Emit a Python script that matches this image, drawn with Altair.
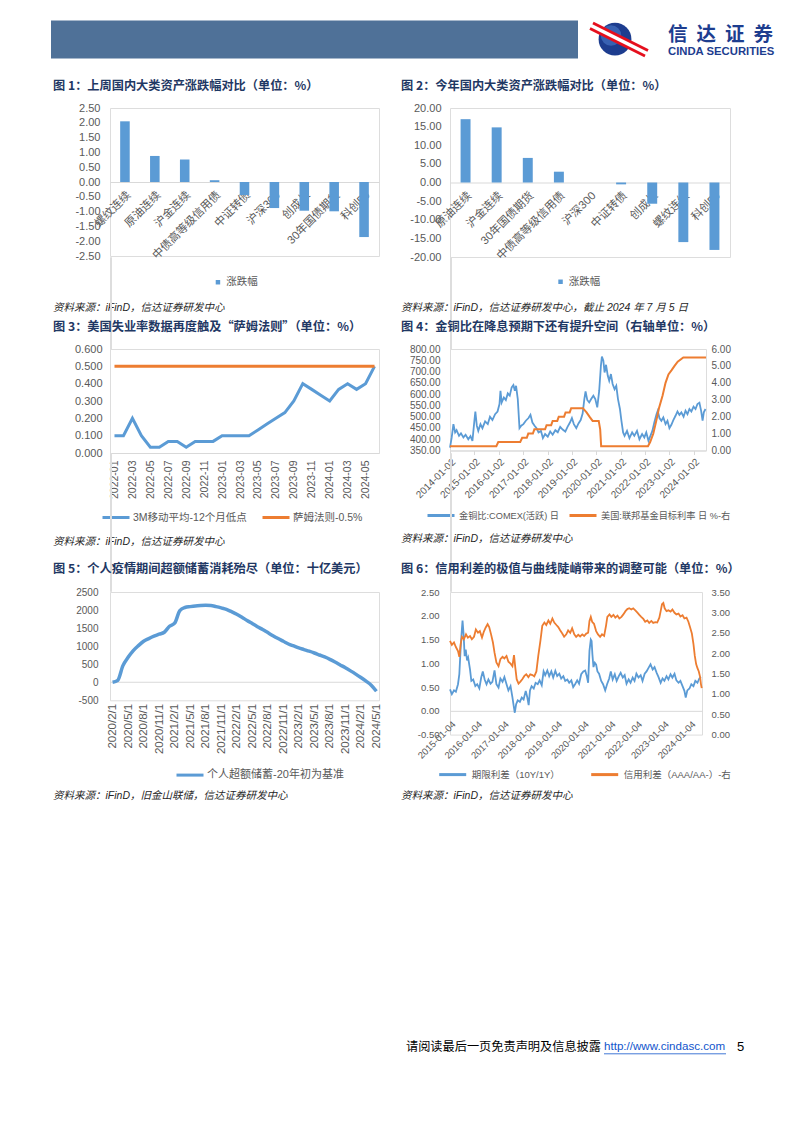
import altair as alt
import pandas as pd

# ---------------- styles ----------------
BLUE = "#5B9BD5"
ORANGE = "#ED7D31"
TICK_TXT = "#595959"
LINE_GRAY = "#D9D9D9"
NAVY = "#1F3864"
LOGO_BLUE = "#1D3D8F"
LATIN = "Liberation Sans, Noto Sans CJK SC, sans-serif"
CJK = "Noto Sans CJK SC, sans-serif"
MINUS = "\u2212"

# ---------------- data ----------------
# Fig 1: last week
assets_week = ["螺纹连续", "原油连续", "沪金连续", "中债高等级信用债", "中证转债",
               "沪深300", "创成长", "30年国债期货", "科创50"]
chg_week = [2.05, 0.88, 0.76, 0.06, -0.44, -0.88, -0.97, -0.99, -1.86]
yticks_week = [-2.5, -2.0, -1.5, -1.0, -0.5, 0.0, 0.5, 1.0, 1.5, 2.0, 2.5]

# Fig 2: year to date
assets_ytd = ["原油连续", "沪金连续", "30年国债期货", "中债高等级信用债", "沪深300",
              "中证转债", "创成长", "螺纹连续", "科创50"]
chg_ytd = [17.0, 14.8, 6.6, 2.9, 0.0, -0.5, -5.7, -16.0, -18.1]
yticks_ytd = [-20, -15, -10, -5, 0, 5, 10, 15, 20]

# Fig 3: Sahm rule
months_sahm = ["2022-01", "2022-02", "2022-03", "2022-04", "2022-05", "2022-06",
               "2022-07", "2022-08", "2022-09", "2022-10", "2022-11", "2022-12",
               "2023-01", "2023-02", "2023-03", "2023-04", "2023-05", "2023-06",
               "2023-07", "2023-08", "2023-09", "2023-10", "2023-11", "2023-12",
               "2024-01", "2024-02", "2024-03", "2024-04", "2024-05", "2024-06"]
unemp_gap = [0.100, 0.100, 0.200, 0.100, 0.033, 0.033, 0.067, 0.067, 0.033, 0.067, 0.067, 0.067,
             0.100, 0.100, 0.100, 0.100, 0.133, 0.167, 0.200, 0.233, 0.300, 0.400, 0.367, 0.333,
             0.300, 0.367, 0.400, 0.367, 0.400, 0.500]
sahm_line = [0.5, 0.5, 0.5, 0.5, 0.5, 0.5, 0.5, 0.5, 0.5, 0.5, 0.5, 0.5, 0.5, 0.5, 0.5,
             0.5, 0.5, 0.5, 0.5, 0.5, 0.5, 0.5, 0.5, 0.5, 0.5, 0.5, 0.5, 0.5, 0.5, 0.5]
yticks_sahm = [0.0, 0.1, 0.2, 0.3, 0.4, 0.5, 0.6]

# Fig 4: gold/copper ratio (decimal year, value) and fed funds target (decimal year, %)
gold_copper = [
    (2014.00, 363), (2014.07, 408), (2014.14, 467), (2014.21, 430), (2014.27, 440), (2014.37, 415),
    (2014.45, 426), (2014.55, 408), (2014.64, 420), (2014.75, 400), (2014.84, 414), (2014.92, 393),
    (2015.00, 482), (2015.04, 523), (2015.10, 460), (2015.16, 437), (2015.25, 467), (2015.33, 449),
    (2015.44, 479), (2015.55, 467), (2015.64, 500), (2015.74, 485), (2015.85, 511), (2015.95, 523),
    (2016.03, 556), (2016.07, 615), (2016.12, 563), (2016.21, 585), (2016.29, 574), (2016.37, 603),
    (2016.45, 593), (2016.53, 630), (2016.60, 640), (2016.66, 615), (2016.71, 637), (2016.78, 578),
    (2016.85, 449), (2016.92, 460), (2017.01, 467), (2017.11, 482), (2017.22, 494), (2017.30, 508),
    (2017.38, 474), (2017.47, 460), (2017.55, 449), (2017.63, 430), (2017.73, 437), (2017.81, 405),
    (2017.90, 423), (2018.01, 411), (2018.11, 434), (2018.21, 420), (2018.32, 440), (2018.42, 431),
    (2018.52, 455), (2018.62, 443), (2018.73, 434), (2018.82, 455), (2018.92, 474), (2019.00, 494),
    (2019.08, 467), (2019.18, 449), (2019.27, 470), (2019.36, 485), (2019.44, 514), (2019.51, 578),
    (2019.56, 612), (2019.63, 574), (2019.71, 563), (2019.79, 578), (2019.88, 593), (2019.96, 578),
    (2020.04, 541), (2020.12, 615), (2020.19, 726), (2020.23, 766), (2020.29, 748), (2020.34, 696),
    (2020.40, 730), (2020.47, 682), (2020.53, 659), (2020.60, 689), (2020.67, 645), (2020.75, 622),
    (2020.82, 637), (2020.89, 578), (2020.97, 534), (2021.03, 482), (2021.10, 430), (2021.16, 415),
    (2021.26, 437), (2021.36, 405), (2021.47, 430), (2021.56, 415), (2021.67, 437), (2021.77, 400),
    (2021.88, 423), (2021.97, 408), (2022.05, 430), (2022.14, 393), (2022.22, 415), (2022.30, 437),
    (2022.38, 474), (2022.47, 511), (2022.52, 526), (2022.59, 494), (2022.67, 482), (2022.75, 497),
    (2022.84, 467), (2022.92, 482), (2023.00, 449), (2023.08, 464), (2023.16, 485), (2023.25, 504),
    (2023.33, 523), (2023.41, 508), (2023.49, 519), (2023.58, 500), (2023.66, 526), (2023.74, 511),
    (2023.82, 534), (2023.90, 523), (2023.99, 544), (2024.07, 534), (2024.15, 556), (2024.23, 562),
    (2024.30, 526), (2024.36, 482), (2024.41, 519), (2024.48, 534),
]
fed_rate = [
    (2014.00, 0.25), (2015.90, 0.25), (2015.98, 0.50), (2016.88, 0.50), (2016.96, 0.75),
    (2017.15, 0.75), (2017.21, 1.00), (2017.40, 1.00), (2017.46, 1.25), (2017.90, 1.25),
    (2017.96, 1.50), (2018.15, 1.50), (2018.21, 1.75), (2018.40, 1.75), (2018.46, 2.00),
    (2018.68, 2.00), (2018.74, 2.25), (2018.91, 2.25), (2018.97, 2.50), (2019.45, 2.50),
    (2019.60, 2.25), (2019.72, 2.00), (2019.85, 1.75), (2020.10, 1.75), (2020.16, 1.25),
    (2020.20, 0.25), (2022.12, 0.25), (2022.21, 0.50), (2022.34, 1.00), (2022.46, 1.75),
    (2022.57, 2.50), (2022.72, 3.25), (2022.84, 4.00), (2022.96, 4.50), (2023.09, 4.75),
    (2023.21, 5.00), (2023.34, 5.25), (2023.57, 5.50), (2024.50, 5.50),
]
yticks_gc = [350, 400, 450, 500, 550, 600, 650, 700, 750, 800]
yticks_fed = [0, 1, 2, 3, 4, 5, 6]
years_gc = [2014, 2015, 2016, 2017, 2018, 2019, 2020, 2021, 2022, 2023, 2024]

# Fig 5: excess savings (billion USD), monthly 2020/2/1 .. 2024/5/1
months_sav = [f"{d.year}/{d.month}/1" for d in pd.date_range("2020-02-01", "2024-05-01", freq="MS")]
excess_sav = [0, 55, 460, 690, 877, 1015, 1135, 1210, 1275, 1330, 1385, 1550, 1635,
              1985, 2070, 2095, 2115, 2125, 2130, 2125, 2095, 2060, 2020, 1955, 1885, 1800,
              1710, 1625, 1540, 1460, 1375, 1290, 1210, 1135, 1060, 1005, 950, 905, 860,
              810, 755, 700, 635, 560, 480, 400, 315, 225, 130, 30, -80, -250]
yticks_sav = [-500, 0, 500, 1000, 1500, 2000, 2500]

# Fig 6: term spread (left) and credit spread (right), (decimal year, value)
term_spread = [
    (2015.00, 0.45), (2015.07, 0.35), (2015.15, 0.43), (2015.22, 0.40), (2015.30, 0.56), (2015.35, 0.77),
    (2015.40, 1.33), (2015.45, 1.75), (2015.47, 1.90), (2015.51, 1.61), (2015.55, 1.15), (2015.59, 1.29),
    (2015.64, 1.06), (2015.68, 1.12), (2015.75, 0.87), (2015.80, 0.63), (2015.87, 0.66), (2015.95, 0.52),
    (2016.02, 0.56), (2016.10, 0.47), (2016.17, 0.70), (2016.23, 0.83), (2016.30, 0.66), (2016.37, 0.56),
    (2016.44, 0.66), (2016.52, 0.57), (2016.59, 0.61), (2016.67, 0.85), (2016.74, 0.56), (2016.82, 0.49),
    (2016.89, 0.68), (2016.97, 0.61), (2017.04, 0.71), (2017.12, 0.56), (2017.19, 0.43), (2017.27, 0.52),
    (2017.34, 0.29), (2017.39, 0.10), (2017.43, -0.04), (2017.48, 0.14), (2017.54, 0.22), (2017.62, 0.19),
    (2017.69, 0.28), (2017.76, 0.24), (2017.84, 0.42), (2017.90, 0.28), (2017.95, 0.12), (2018.00, 0.43),
    (2018.06, 0.52), (2018.14, 0.47), (2018.21, 0.59), (2018.29, 0.56), (2018.36, 0.64), (2018.44, 0.54),
    (2018.51, 0.83), (2018.57, 0.75), (2018.65, 0.85), (2018.72, 0.73), (2018.80, 0.83), (2018.87, 0.70),
    (2018.95, 0.84), (2019.02, 0.73), (2019.10, 0.78), (2019.17, 0.68), (2019.25, 0.73), (2019.32, 0.63),
    (2019.40, 0.66), (2019.47, 0.59), (2019.55, 0.64), (2019.62, 0.50), (2019.69, 0.56), (2019.77, 0.64),
    (2019.84, 0.57), (2019.92, 0.77), (2020.00, 0.83), (2020.07, 0.85), (2020.13, 0.73), (2020.18, 0.59),
    (2020.23, 1.26), (2020.28, 1.50), (2020.31, 1.47), (2020.34, 1.19), (2020.38, 0.92), (2020.43, 1.01),
    (2020.48, 0.97), (2020.53, 0.83), (2020.59, 0.78), (2020.67, 0.63), (2020.74, 0.56), (2020.82, 0.43),
    (2020.89, 0.56), (2020.97, 0.68), (2021.03, 0.83), (2021.10, 0.66), (2021.18, 0.77), (2021.25, 0.63),
    (2021.33, 0.73), (2021.40, 0.80), (2021.48, 0.70), (2021.55, 0.75), (2021.62, 0.57), (2021.70, 0.66),
    (2021.77, 0.59), (2021.85, 0.70), (2021.92, 0.63), (2021.99, 0.78), (2022.07, 0.70), (2022.15, 0.75),
    (2022.22, 0.63), (2022.30, 0.78), (2022.37, 0.83), (2022.45, 0.91), (2022.52, 0.98), (2022.60, 0.87),
    (2022.67, 0.92), (2022.75, 0.80), (2022.82, 0.71), (2022.90, 0.59), (2022.97, 0.68), (2023.04, 0.63),
    (2023.12, 0.73), (2023.19, 0.66), (2023.27, 0.77), (2023.34, 0.70), (2023.42, 0.78), (2023.49, 0.64),
    (2023.57, 0.59), (2023.64, 0.63), (2023.72, 0.52), (2023.79, 0.42), (2023.84, 0.28), (2023.90, 0.43),
    (2023.98, 0.47), (2024.05, 0.56), (2024.13, 0.52), (2024.20, 0.63), (2024.28, 0.59), (2024.35, 0.68),
    (2024.41, 0.71),
]
credit_spread = [
    (2015.00, 2.30), (2015.07, 2.20), (2015.15, 2.26), (2015.22, 2.15), (2015.30, 2.05), (2015.35, 1.91),
    (2015.40, 2.22), (2015.45, 2.40), (2015.52, 2.34), (2015.60, 2.46), (2015.67, 2.38), (2015.75, 2.42),
    (2015.82, 2.34), (2015.90, 2.40), (2015.97, 2.58), (2016.05, 2.50), (2016.12, 2.54), (2016.20, 2.38),
    (2016.27, 2.53), (2016.34, 2.63), (2016.41, 2.71), (2016.47, 2.64), (2016.54, 2.46), (2016.61, 2.26),
    (2016.67, 2.01), (2016.74, 1.77), (2016.82, 1.68), (2016.89, 1.85), (2016.97, 1.91), (2017.04, 1.87),
    (2017.12, 1.93), (2017.19, 1.79), (2017.27, 1.74), (2017.34, 1.68), (2017.40, 1.95), (2017.45, 1.64),
    (2017.50, 1.36), (2017.57, 1.25), (2017.64, 1.30), (2017.71, 1.36), (2017.79, 1.44), (2017.86, 1.48),
    (2017.94, 1.41), (2018.01, 1.48), (2018.09, 1.46), (2018.16, 1.43), (2018.24, 1.55), (2018.31, 1.93),
    (2018.39, 2.30), (2018.46, 2.67), (2018.54, 2.75), (2018.61, 2.69), (2018.69, 2.80), (2018.76, 2.72),
    (2018.84, 2.85), (2018.91, 2.75), (2018.99, 2.69), (2019.06, 2.64), (2019.13, 2.56), (2019.21, 2.48),
    (2019.28, 2.40), (2019.36, 2.46), (2019.43, 2.56), (2019.51, 2.50), (2019.58, 2.61), (2019.66, 2.46),
    (2019.73, 2.40), (2019.81, 2.45), (2019.88, 2.41), (2019.96, 2.46), (2020.03, 2.42), (2020.11, 2.48),
    (2020.18, 2.50), (2020.23, 2.79), (2020.28, 2.89), (2020.33, 2.77), (2020.40, 2.72), (2020.48, 2.54),
    (2020.55, 2.46), (2020.63, 2.40), (2020.70, 2.46), (2020.78, 2.42), (2020.85, 2.67), (2020.90, 2.89),
    (2020.98, 2.95), (2021.05, 2.89), (2021.13, 2.94), (2021.20, 2.87), (2021.28, 2.92), (2021.35, 2.85),
    (2021.43, 2.89), (2021.50, 2.95), (2021.58, 3.03), (2021.65, 3.08), (2021.72, 3.10), (2021.80, 3.07),
    (2021.87, 3.10), (2021.95, 3.05), (2022.02, 3.00), (2022.10, 2.94), (2022.17, 2.89), (2022.25, 2.84),
    (2022.32, 2.77), (2022.40, 2.80), (2022.47, 2.74), (2022.55, 2.79), (2022.62, 2.74), (2022.70, 2.76),
    (2022.77, 2.75), (2022.85, 2.87), (2022.90, 3.03), (2022.95, 3.20), (2023.00, 3.23), (2023.05, 3.10),
    (2023.12, 3.03), (2023.19, 3.05), (2023.27, 3.02), (2023.34, 3.07), (2023.42, 2.99), (2023.49, 2.95),
    (2023.57, 2.97), (2023.64, 2.90), (2023.72, 2.93), (2023.79, 2.85), (2023.87, 2.87), (2023.94, 2.77),
    (2024.00, 2.64), (2024.07, 2.48), (2024.13, 2.22), (2024.18, 1.93), (2024.23, 1.73), (2024.28, 1.63),
    (2024.33, 1.55), (2024.38, 1.41), (2024.41, 1.24), (2024.44, 1.14),
]
yticks_term = [-0.5, 0.0, 0.5, 1.0, 1.5, 2.0, 2.5]
yticks_credit = [0.0, 0.5, 1.0, 1.5, 2.0, 2.5, 3.0, 3.5]
years_sp = [2015, 2016, 2017, 2018, 2019, 2020, 2021, 2022, 2023, 2024]

# ---------------- texts ----------------
TITLES = {
    1: "图 1：上周国内大类资产涨跌幅对比（单位：%）",
    2: "图 2：今年国内大类资产涨跌幅对比（单位：%）",
    3: "图 3：美国失业率数据再度触及“萨姆法则”（单位：%）",
    4: "图 4：金铜比在降息预期下还有提升空间（右轴单位：%）",
    5: "图 5：个人疫情期间超额储蓄消耗殆尽（单位：十亿美元）",
    6: "图 6：信用利差的极值与曲线陡峭带来的调整可能（单位：%）",
}
SRC = "资料来源：iFinD，信达证券研发中心"
SOURCES = {
    1: SRC,
    2: "资料来源：iFinD，信达证券研发中心，截止 2024 年 7 月 5 日",
    3: SRC,
    4: SRC,
    5: "资料来源：iFinD，旧金山联储，信达证券研发中心",
    6: SRC,
}

# ---------------- layout: plot-area origins on the page ----------------
CELL = {1: (109, 107.5), 2: (449, 107.5), 3: (109, 348.5),
        4: (449, 348.5), 5: (109, 590.7), 6: (449, 590.7)}
TITLE_Y = {1: 85, 2: 85, 3: 326, 4: 326, 5: 568, 6: 568}
SRC_Y = {1: 307.5, 2: 307, 3: 541, 4: 538, 5: 795, 6: 795}

ONE = pd.DataFrame({"k": [0]})


def rel(c, X, Y):
    return X - CELL[c][0], Y - CELL[c][1]


def txt(text, xy, size, color="#000000", weight="normal", style="normal", font=CJK, align="left"):
    return alt.Chart(ONE).mark_text(text=text, fontSize=size, color=color, fontWeight=weight,
                                    fontStyle=style, font=font, align=align, baseline="middle").encode(
        x=alt.value(xy[0]), y=alt.value(xy[1]))


def rule_px(p1, p2, color, width):
    return alt.Chart(ONE).mark_rule(color=color, strokeWidth=width, strokeCap="butt").encode(
        x=alt.value(p1[0]), y=alt.value(p1[1]), x2=alt.value(p2[0]), y2=alt.value(p2[1]))


def rect_px(p1, p2, color):
    return alt.Chart(ONE).mark_rect(color=color).encode(
        x=alt.value(p1[0]), y=alt.value(p1[1]), x2=alt.value(p2[0]), y2=alt.value(p2[1]))


def dot_px(p, size, color, opacity=1.0):
    return alt.Chart(ONE).mark_circle(size=size, color=color, opacity=opacity).encode(
        x=alt.value(p[0]), y=alt.value(p[1]))


def frame_texts(c):
    tx = 52 if c % 2 == 1 else 400
    return [
        txt(TITLES[c], rel(c, tx, TITLE_Y[c]), 12.2, NAVY, weight="bold"),
        txt(SOURCES[c], rel(c, tx, SRC_Y[c]), 10.5, "#262626", style="italic", font=LATIN),
    ]


def num_expr(fmt):
    return f"replace(format(datum.value, '{fmt}'), '{MINUS}', '-')"


def yaxis(values, fmt, size, pad, orient="left"):
    return alt.Axis(title=None, values=values, labelExpr=num_expr(fmt), grid=False, domain=False,
                    ticks=False, tickSize=0, labelFont=LATIN, labelFontSize=size,
                    labelColor=TICK_TXT, labelPadding=pad, orient=orient, labelFlush=False)


def legend(x, y, size, sym="stroke", symsize=729, colpad=10, off=3):
    return alt.Legend(orient="none", legendX=x, legendY=y, direction="horizontal", title=None,
                      symbolType=sym, symbolSize=symsize,
                      symbolStrokeWidth=3 if sym == "stroke" else 0,
                      labelFontSize=size, labelFont=LATIN, labelColor=TICK_TXT,
                      columnPadding=colpad, labelOffset=off, padding=0)


# ---------------- Fig 1 & 2: bars ----------------
def bar_panel(c, cats, vals, dom, yt, w, h, ypad, legx, legy, extra):
    df = pd.DataFrame({"资产": cats, "涨跌幅": vals, "系列": ["涨跌幅"] * len(cats)})
    bars = alt.Chart(df).mark_bar().encode(
        x=alt.X("资产:N", sort=cats, scale=alt.Scale(paddingInner=0.68, paddingOuter=0.34),
                axis=alt.Axis(title=None, offset=-h / 2, labelAngle=-45, domainColor=LINE_GRAY,
                              ticks=False, tickSize=0, labelFont=LATIN, labelFontSize=11.3,
                              labelColor=TICK_TXT, labelPadding=7, labelLimit=300,
                              labelOverlap=False)),
        y=alt.Y("涨跌幅:Q", scale=alt.Scale(domain=dom, nice=False, zero=False),
                axis=yaxis(yt, ".2f", 11, ypad)),
        color=alt.Color("系列:N", scale=alt.Scale(domain=["涨跌幅"], range=[BLUE]),
                        legend=legend(legx, legy, 10.5, sym="square", symsize=20, off=3)),
    )
    return alt.layer(*extra, bars, *frame_texts(c)).properties(width=w, height=h)


header = [rect_px(rel(1, 50, 20), rel(1, 577, 58), "#4F7198")]
p1 = bar_panel(1, assets_week, chg_week, [-2.5, 2.5], yticks_week, 269, 148, 10, 102.7, 169, header)

logo = [
    dot_px(rel(2, 614, 38.7), 1075, LOGO_BLUE),
    dot_px(rel(2, 610, 35), 420, "#4F7FD0", 0.55),
    rule_px(rel(2, 590, 25.5), rel(2, 646, 52.5), "#FFFFFF", 7),
    rule_px(rel(2, 589, 28.0), rel(2, 644, 55.5), "#E50F1D", 2.8),
    rule_px(rel(2, 592, 22.5), rel(2, 647, 50.0), "#E50F1D", 2.8),
]
for i, ch in enumerate("信达证券"):
    logo.append(txt(ch, rel(2, 667 + 28.5 * i, 34.5), 19.5, LOGO_BLUE, weight="bold"))
logo.append(txt("CINDA SECURITIES", rel(2, 667, 51.5), 11.3, LOGO_BLUE, weight="bold", font=LATIN))
p2 = bar_panel(2, assets_ytd, chg_ytd, [-20, 20], yticks_ytd, 280, 149, 9, 105.3, 168.5, logo)

# ---------------- Fig 3: Sahm rule ----------------
S3A, S3B = "3M移动平均-12个月低点", "萨姆法则-0.5%"
df3 = pd.DataFrame({"月份": months_sahm + months_sahm,
                    "数值": unemp_gap + sahm_line,
                    "系列": [S3A] * len(months_sahm) + [S3B] * len(months_sahm)})
line3 = alt.Chart(df3).mark_line(strokeWidth=3).encode(
    x=alt.X("月份:O", sort=months_sahm,
            axis=alt.Axis(title=None, values=months_sahm[::2], labelAngle=-90, domainColor=LINE_GRAY,
                          ticks=False, tickSize=0, labelFont=LATIN, labelFontSize=10.5,
                          labelColor=TICK_TXT, labelPadding=7, labelOverlap=False)),
    y=alt.Y("数值:Q", scale=alt.Scale(domain=[0, 0.6], nice=False), axis=yaxis(yticks_sahm, ".3f", 11, 8)),
    color=alt.Color("系列:N", scale=alt.Scale(domain=[S3A, S3B], range=[BLUE, ORANGE]),
                    legend=legend(-9, 153.5, 10.5, colpad=9, off=2)),
)
p3 = alt.layer(line3, *frame_texts(3)).properties(width=269, height=104)

# ---------------- Fig 4: gold/copper ----------------
S4A, S4B = "金铜比:COMEX(活跃) 日", "美国:联邦基金目标利率 日 %-右"
df4a = pd.DataFrame(gold_copper, columns=["年份", "数值"]).assign(系列=S4A)
df4b = pd.DataFrame(fed_rate, columns=["年份", "数值"]).assign(系列=S4B)
color4 = alt.Color("系列:N", scale=alt.Scale(domain=[S4A, S4B], range=[BLUE, ORANGE]),
                   legend=legend(-24, 151.5, 9.2, colpad=3, off=3))
x4 = alt.X("年份:Q", scale=alt.Scale(domain=[2014.0, 2024.5], nice=False, zero=False),
           axis=alt.Axis(title=None, values=years_gc, labelExpr="floor(datum.value) + '-01-02'",
                         labelAngle=-45, domainColor=LINE_GRAY, tickColor=LINE_GRAY, tickSize=4,
                         labelFont=LATIN, labelFontSize=10, labelColor=TICK_TXT, labelPadding=2,
                         labelOverlap=False, labelFlush=False, grid=False))
l4a = alt.Chart(df4a).mark_line(strokeWidth=1.8).encode(
    x=x4, y=alt.Y("数值:Q", scale=alt.Scale(domain=[350, 800], nice=False, zero=False),
                  axis=yaxis(yticks_gc, ".2f", 10, 10)), color=color4)
l4b = alt.Chart(df4b).mark_line(strokeWidth=2).encode(
    x=x4, y=alt.Y("数值:Q", scale=alt.Scale(domain=[0, 6], nice=False),
                  axis=yaxis(yticks_fed, ".2f", 10, 5, orient="right")), color=color4)
p4 = alt.layer(l4a, l4b, *frame_texts(4)).resolve_scale(y="independent").properties(width=256, height=101.5)

# ---------------- Fig 5: excess savings ----------------
S5 = "个人超额储蓄-20年初为基准"
df5 = pd.DataFrame({"月份": months_sav, "数值": excess_sav, "系列": [S5] * len(months_sav)})
ax5 = yaxis(yticks_sav, "d", 10, 12)
sc5 = alt.Scale(domain=[-500, 2500], nice=False, zero=False)
zero5 = alt.Chart(ONE).mark_rule(color=LINE_GRAY, strokeWidth=1).encode(
    y=alt.YDatum(0, scale=sc5, axis=ax5))
line5 = alt.Chart(df5).mark_line(strokeWidth=3.5, interpolate="monotone").encode(
    x=alt.X("月份:O", sort=months_sav,
            axis=alt.Axis(title=None, values=months_sav[::3], labelAngle=-90, domain=False,
                          ticks=False, tickSize=0, labelFont=LATIN, labelFontSize=11.5,
                          labelColor=TICK_TXT, labelPadding=3, labelOverlap=False)),
    y=alt.Y("数值:Q", scale=sc5, axis=ax5),
    color=alt.Color("系列:N", scale=alt.Scale(domain=[S5], range=[BLUE]),
                    legend=legend(65, 168.1, 11, off=2)),
)
p5 = alt.layer(zero5, line5, *frame_texts(5)).properties(width=269, height=108.3)

# ---------------- Fig 6: spreads ----------------
S6A, S6B = "期限利差（10Y/1Y）", "信用利差（AAA/AA-）-右"
df6a = pd.DataFrame(term_spread, columns=["年份", "数值"]).assign(系列=S6A)
df6b = pd.DataFrame(credit_spread, columns=["年份", "数值"]).assign(系列=S6B)
color6 = alt.Color("系列:N", scale=alt.Scale(domain=[S6A, S6B], range=[BLUE, ORANGE]),
                   legend=legend(-12.3, 167.6, 9.5, colpad=24, off=4))
H6 = 142.6
x6 = alt.X("年份:Q", scale=alt.Scale(domain=[2015.0, 2024.45], nice=False, zero=False),
           axis=alt.Axis(title=None, values=years_sp, labelExpr="floor(datum.value) + '-01-04'",
                         labelAngle=-45, offset=-H6 / 6, domainColor=LINE_GRAY, ticks=False,
                         tickSize=0, labelFont=LATIN, labelFontSize=9.5, labelColor=TICK_TXT,
                         labelPadding=8, labelOverlap=False, labelFlush=False, grid=False))
l6a = alt.Chart(df6a).mark_line(strokeWidth=1.8).encode(
    x=x6, y=alt.Y("数值:Q", scale=alt.Scale(domain=[-0.5, 2.5], nice=False, zero=False),
                  axis=yaxis(yticks_term, ".2f", 9.5, 11)), color=color6)
l6b = alt.Chart(df6b).mark_line(strokeWidth=1.8).encode(
    x=x6, y=alt.Y("数值:Q", scale=alt.Scale(domain=[0, 3.5], nice=False, zero=False),
                  axis=yaxis(yticks_credit, ".2f", 9.5, 9, orient="right")), color=color6)

footer = [
    txt("请阅读最后一页免责声明及信息披露", rel(6, 405, 1046), 12.2, "#000000"),
    txt("http://www.cindasc.com", rel(6, 603, 1046), 11.6, "#1155CC", font=LATIN),
    rule_px(rel(6, 603, 1052.5), rel(6, 725, 1052.5), "#1155CC", 0.8),
    txt("5", rel(6, 736, 1046), 13, "#000000", font=LATIN),
]
p6 = alt.layer(l6a, l6b, *frame_texts(6), *footer).resolve_scale(y="independent").properties(
    width=252, height=H6)


# ---------------- page assembly ----------------
def spacer(h):
    return alt.Chart(ONE).mark_text(text="").encode(x=alt.value(0), y=alt.value(0)).properties(
        width=1, height=h)


chart = alt.concat(
    p1, p2,
    spacer(92), spacer(92),
    p3, p4,
    spacer(138.2), spacer(138.2),
    p5, p6,
    columns=2, spacing={"row": 0, "column": 71}, bounds="flush",
).resolve_scale(color="independent").properties(
    padding={"left": 42, "top": 12, "right": 8, "bottom": 8},
    background="white",
).configure_view(stroke=None).configure(font=LATIN)

chart.save("out.html", embed_options={"renderer": "svg", "actions": False})
